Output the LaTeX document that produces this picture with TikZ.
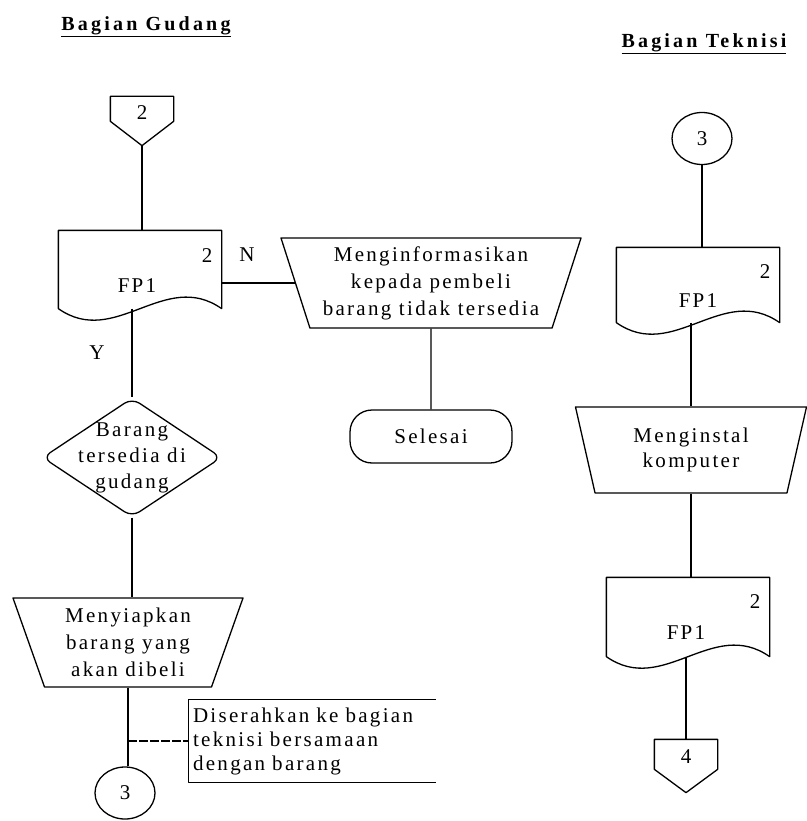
\documentclass[tikz,border=0pt]{standalone}
\usepackage{fontspec}
\setmainfont{Liberation Serif}[LetterSpace=11]
\usetikzlibrary{shapes.geometric,calc}
\newcommand{\docpath}[1]{\draw (#1.south west) -- (#1.north west) -- (#1.north east) -- (#1.south east) .. controls ($(#1.south east)+(-57,-40)$) and ($(#1.south west)+(57,40)$) .. (#1.south west) -- cycle;}
\newcommand{\offpage}[2]{\draw (#1.north west) -- (#1.north east) -- ($(#1.north east)+(0,#2)$) -- (#1.south) -- ($(#1.north west)+(0,#2)$) -- cycle;}
\begin{document}
\begin{tikzpicture}[x=1pt,y=-1pt,line width=1.3pt,line join=round,
  every node/.style={font=\fontsize{21}{27}\selectfont,inner sep=1pt},
  manop/.style={trapezium,shape border rotate=180,trapezium stretches body,draw,align=center,inner sep=1pt},
  docbox/.style={rectangle,minimum width=162,minimum height=77},
  offp/.style={rectangle,minimum width=62},
  conn/.style={ellipse,draw,minimum width=60,minimum height=52,inner sep=0pt},
  term/.style={rectangle,rounded corners=22,draw,minimum width=162,minimum height=53},
  dec/.style={diamond,draw,rounded corners=9,minimum width=179,minimum height=119,inner sep=0pt},
  annot/.style={rectangle,minimum width=246,minimum height=82,align=left,text width=238,font=\fontsize{21}{24}\selectfont},
  lbl/.style={inner sep=0pt},
  title/.style={font=\fontsize{20}{24}\selectfont\bfseries\addfontfeatures{LetterSpace=16}}
]
\useasboundingbox (0,0) rectangle (806,821);
\fill[white] (0,0) rectangle (806,821);

% titles
\node[title] (tg) at (146,27) {\underline{Bagian Gudang}};
\node[title] (tt) at (704,44) {\underline{Bagian Teknisi}};

% left column
\node[offp,minimum height=48] (op2) at (142,121) {};
\offpage{op2}{25}
\node[lbl] (op2t) at (142,113) {2};

\node[docbox] (fp1) at (140,269.5) {};
\docpath{fp1}
\node[lbl] (fp1t) at ($(fp1.center)+(-3,16)$) {FP1};
\node[lbl] (fp1n) at ($(fp1.center)+(67,-14)$) {2};
\draw (op2.south) -- (op2.south |- fp1.north);

\node[dec,label={[align=center,font=\fontsize{21}{26}\selectfont]center:Barang\\tersedia di\\gudang}] (dia) at (132,457.5) {};
\draw (dia.north |- fp1.south) -- (dia.north);
\node[lbl] (ylab) at (97,353) {Y};

\node[manop,trapezium angle=66,minimum width=230,minimum height=89] (m2) at (128,642.5) {Menyiapkan\\barang yang\\akan dibeli};
\draw (dia.south) -- (dia.south |- m2.north);

\node[conn] (c3l) at (125,793) {3};
\node[annot] (ann) at (312,741) {Diserahkan ke bagian\\teknisi bersamaan\\dengan barang};
\draw (ann.north east) -- (ann.north west) -- (ann.south west) -- (ann.south east);
\coordinate (jn) at (m2.south |- ann.west);
\draw (m2.south) -- (m2.south |- c3l.north);
\draw[line width=2pt,dash pattern=on 9pt off 2pt] (jn) -- (ann.west);

% middle
\node[manop,trapezium angle=69,minimum width=300,minimum height=90] (m1) at (431,283) {Menginformasikan\\kepada pembeli\\barang tidak tersedia};
\draw (m1.west -| fp1.east) -- (m1.west);
\node[lbl] (nlab) at (247,255) {N};
\node[term] (sel) at (431,436.5) {Selesai};
\draw (m1.south) -- (sel.north);

% right column
\node[conn] (c3r) at (702,138.5) {3};
\node[docbox,minimum height=74] (fp2) at (698,285) {};
\docpath{fp2}
\node[lbl] (fp2t) at ($(fp2.center)+(0,16)$) {FP1};
\node[lbl] (fp2n) at ($(fp2.center)+(67,-13)$) {2};
\draw (c3r.south) -- (c3r.south |- fp2.north);

\node[manop,trapezium angle=67,minimum width=231,minimum height=86,font=\fontsize{21}{25}\selectfont] (m3) at (691,450) {Menginstal\\komputer};
\draw (m3.north |- fp2.south) -- (m3.north);

\node[docbox,minimum height=78] (fp3) at (688,617) {};
\docpath{fp3}
\node[lbl] (fp3t) at ($(fp3.center)+(-2,16)$) {FP1};
\node[lbl] (fp3n) at ($(fp3.center)+(67,-15)$) {2};
\draw (m3.south) -- (m3.south |- fp3.north);

\node[offp,minimum height=52] (op4) at (686,766) {};
\offpage{op4}{30}
\node[lbl] (op4t) at (686,757) {4};
\draw (op4.north |- fp3.south) -- (op4.north);
\end{tikzpicture}
\end{document}
